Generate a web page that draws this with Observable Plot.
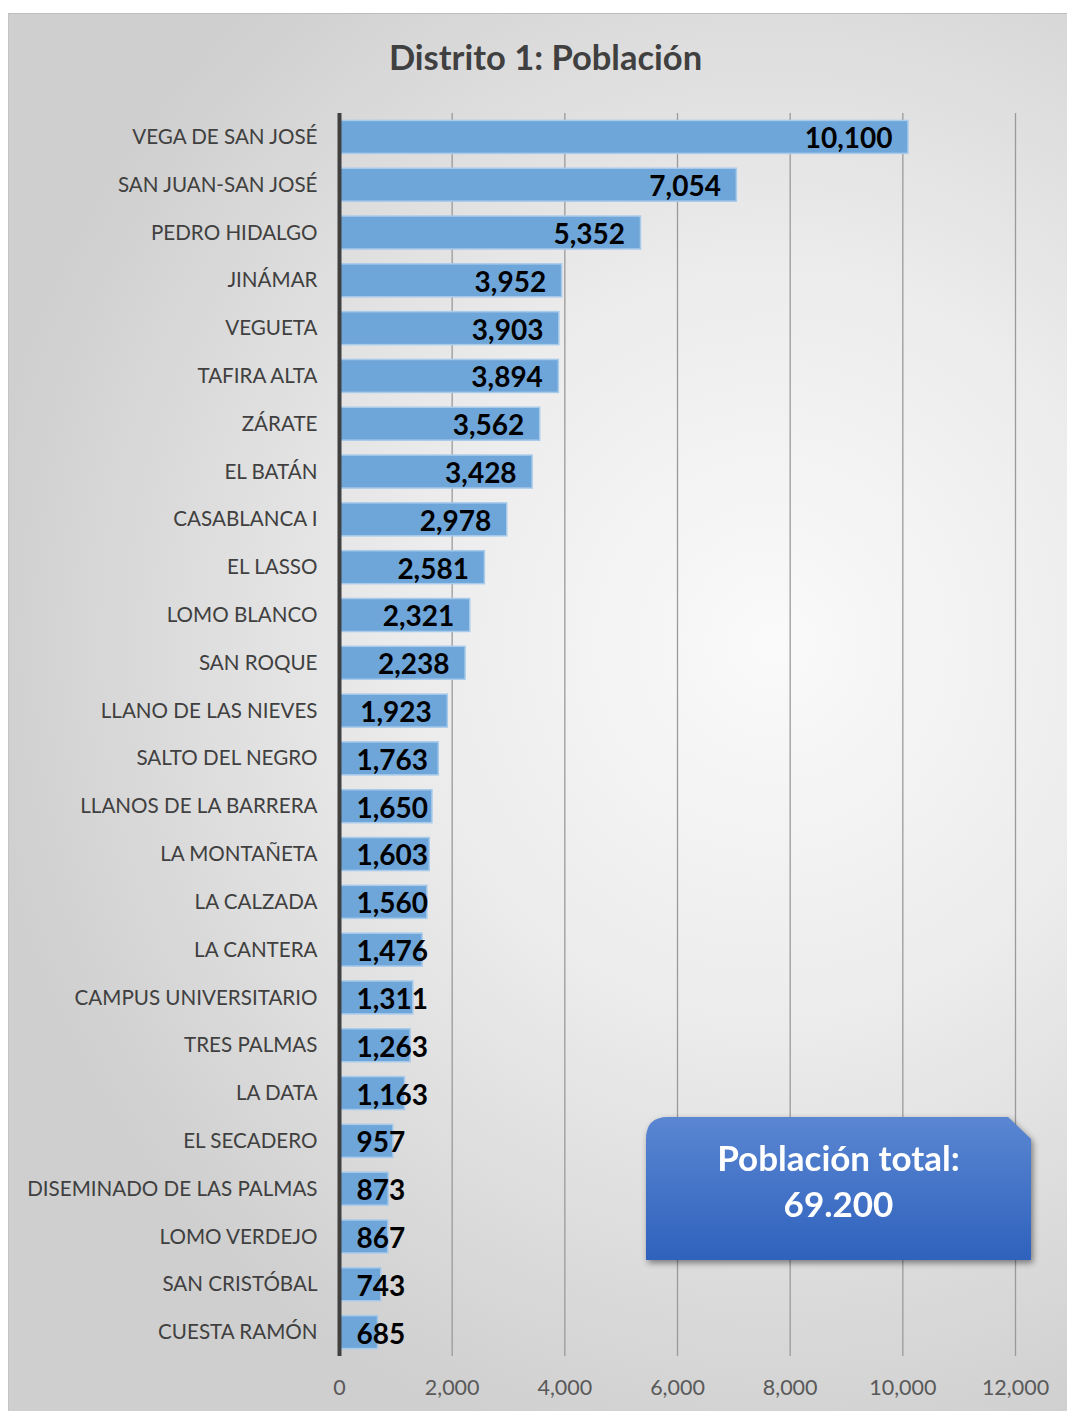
<!DOCTYPE html>
<html>
<head>
<meta charset="utf-8">
<script src="https://cdn.jsdelivr.net/npm/d3@7"></script>
<script src="https://cdn.jsdelivr.net/npm/@observablehq/plot@0.6"></script>
<style>
  body { margin: 0; background: #fff; font-family: Lato, "Open Sans", sans-serif; }
  #frame {
    position: absolute; left: 8px; top: 13px; width: 1059px; height: 1398px;
    background: radial-gradient(ellipse 75% 60% at 72% 45%, #fafafa 0%, #ececec 45%, #cfcfcf 100%);
    border-top: 1px solid #bdbdbd; border-left: 1px solid #c4c4c4;
    overflow: hidden;
  }
  #title {
    height: 85px; line-height: 86px; text-align: center; font-weight: bold;
    font-size: 34.5px; color: #404040; padding-left: 14px;
  }
  #callout-wrap {
    position: absolute; left: 637px; top: 1103px; width: 385px; height: 143px;
    filter: drop-shadow(2px 3px 3px rgba(0,0,0,0.45));
  }
  #callout {
    width: 100%; height: 100%;
    background: linear-gradient(#5a86d2, #2f62bd);
    clip-path: path('M22,0 H362 L385,22 V143 H0 V22 Q0,0 22,0 Z');
    color: #fff; font-weight: bold; font-size: 35px; text-align: center;
    display: flex; flex-direction: column; justify-content: center; line-height: 46px;
    padding-bottom: 18px; box-sizing: border-box;
  }
</style>
</head>
<body>
<div id="frame">
  <div id="title">Distrito 1: Población</div>
  <div id="chart"></div>
  <div id="callout-wrap"><div id="callout"><div>Población total:</div><div id="total"></div></div></div>
</div>
<script>
const barrios = ["VEGA DE SAN JOSÉ","SAN JUAN-SAN JOSÉ","PEDRO HIDALGO","JINÁMAR","VEGUETA","TAFIRA ALTA","ZÁRATE","EL BATÁN","CASABLANCA I","EL LASSO","LOMO BLANCO","SAN ROQUE","LLANO DE LAS NIEVES","SALTO DEL NEGRO","LLANOS DE LA BARRERA","LA MONTAÑETA","LA CALZADA","LA CANTERA","CAMPUS UNIVERSITARIO","TRES PALMAS","LA DATA","EL SECADERO","DISEMINADO DE LAS PALMAS","LOMO VERDEJO","SAN CRISTÓBAL","CUESTA RAMÓN"];
const poblacion = [10100,7054,5352,3952,3903,3894,3562,3428,2978,2581,2321,2238,1923,1763,1650,1603,1560,1476,1311,1263,1163,957,873,867,743,685];
const xTicks = [0,2000,4000,6000,8000,10000,12000];
const totalLabel = "69.200";

document.getElementById("total").textContent = totalLabel;
const data = barrios.map((b, i) => ({barrio: b, valor: poblacion[i]}));
const fmt = d3.format(",");

const chart = Plot.plot({
  width: 1059,
  height: 1296,
  marginLeft: 330,
  marginRight: 53,
  marginTop: 14,
  marginBottom: 39,
  style: {background: "transparent", fontFamily: "Lato, 'Open Sans', sans-serif", overflow: "visible"},
  x: {domain: [0, 12000], ticks: xTicks, tickFormat: fmt},
  y: {domain: barrios, paddingInner: 0.31, paddingOuter: 0.155, round: false, label: null},
  marks: [
    Plot.gridX(xTicks.filter(t => t > 0), {stroke: "#9a9a9a", strokeOpacity: 1, strokeWidth: 1.3}),
    Plot.axisX({ticks: xTicks, tickFormat: fmt, tickSize: 0, tickPadding: 23, fontSize: 21.5, fill: "#595959", label: null}),
    Plot.axisY({tickSize: 0, tickPadding: 22, fontSize: 20.6, fill: "#404040", label: null}),
    Plot.barX(data, {x: "valor", y: "barrio", fill: "#6fa6d9", stroke: "#a9cbeb", strokeWidth: 1.5}),
    Plot.ruleX([0], {stroke: "#404040", strokeWidth: 4}),
    Plot.text(data.filter(d => d.valor >= 1900), {x: "valor", y: "barrio", text: d => fmt(d.valor), textAnchor: "end", dx: -16, dy: 2, fontSize: 28, fontWeight: "bold", fill: "#000"}),
    Plot.text(data.filter(d => d.valor < 1900), {x: 0, y: "barrio", text: d => fmt(d.valor), textAnchor: "start", dx: 17, dy: 2, fontSize: 28, fontWeight: "bold", fill: "#000"})
  ]
});
document.getElementById("chart").appendChild(chart);
</script>
</body>
</html>
